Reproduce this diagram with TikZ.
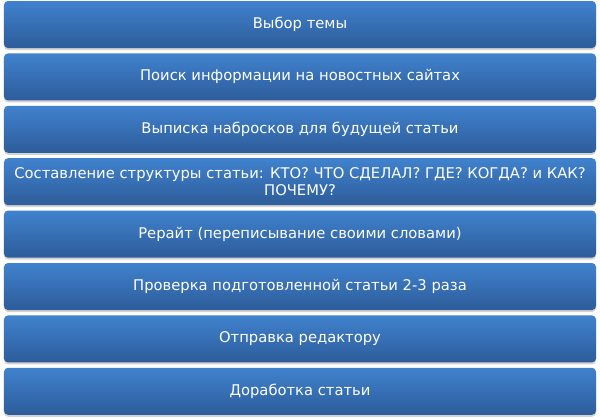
\documentclass[tikz,border=0pt]{standalone}
\usepackage{fontspec}
\setmainfont{DejaVu Sans}
\usepackage{tikz}
\usetikzlibrary{positioning,shadows}
\definecolor{boxtop}{RGB}{64,130,206}
\definecolor{boxbottom}{RGB}{45,92,154}
\tikzstyle{stepbox} = [rounded corners=4bp, minimum width=592bp, minimum height=47bp,
  top color=boxtop, bottom color=boxbottom, text=white, align=center, inner sep=0pt,
  font=\fontsize{14.8}{17}\selectfont,
  drop shadow={opacity=0.35, shadow xshift=0bp, shadow yshift=-2bp}]

\begin{document}
\begin{tikzpicture}[x=1bp, y=1bp, node distance=5bp]
        \useasboundingbox (0,0) rectangle (600,-419);
        \node[stepbox] at (300,-24.5) (topic) {Выбор темы};
        \node[stepbox, below=of topic] (search) {Поиск информации на новостных сайтах};
        \node[stepbox, below=of search] (notes) {Выписка набросков для будущей статьи};
        \node[stepbox, below=of notes] (plan) {Составление структуры статьи: КТО? ЧТО СДЕЛАЛ? ГДЕ? КОГДА? и КАК?\\ ПОЧЕМУ?};
        \node[stepbox, below=of plan] (rewrite) {Рерайт (переписывание своими словами)};
        \node[stepbox, below=of rewrite] (check) {Проверка подготовленной статьи 2-3 раза};
        \node[stepbox, below=of check] (send) {Отправка редактору};
        \node[stepbox, below=of send] (fix) {Доработка статьи};

    \end{tikzpicture}
\end{document}
